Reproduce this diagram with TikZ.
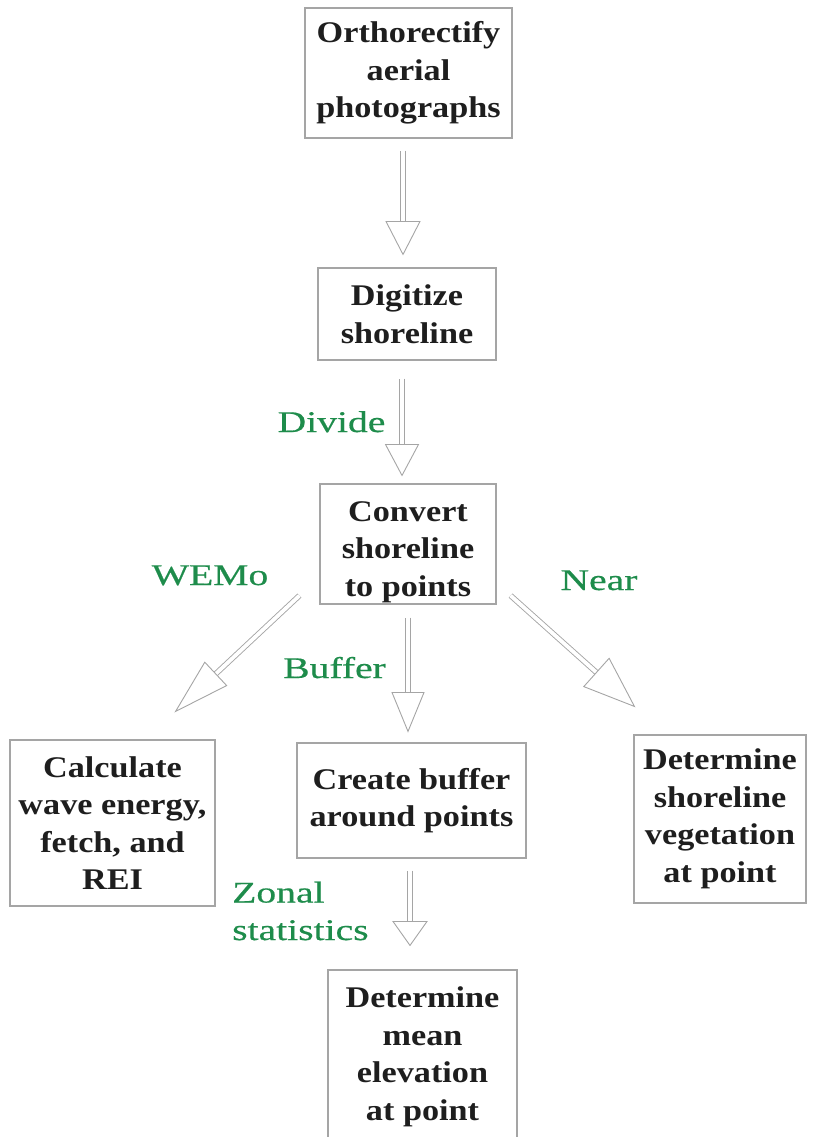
\documentclass[tikz,border=0pt]{standalone}
\usepackage{fontspec}
\setmainfont{Liberation Serif}[FakeStretch=1.14]
\newfontfamily\greenfont{Liberation Serif}[FakeStretch=1.32, FakeBold=0.5]
\usetikzlibrary{calc}

\definecolor{labelgreen}{RGB}{30,140,75}
\definecolor{edgegray}{RGB}{165,165,165}
\definecolor{inkgray}{RGB}{30,30,30}

\tikzset{
  stepbox/.style={draw=edgegray, line width=1.1pt, align=center, inner sep=0pt,
    text=inkgray, font=\bfseries\fontsize{30}{37.5}\selectfont},
  steptext/.style={align=center, inner sep=0pt,
    text=inkgray, font=\bfseries\fontsize{30}{37.5}\selectfont},
  steplabel/.style={text=labelgreen, inner sep=0pt, font=\greenfont\fontsize{30}{37.5}\selectfont},
  shaft/.style={draw=edgegray, line width=0.9pt, double=white, double distance=3.8pt},
  arrowhead/.style={draw=edgegray, line width=0.9pt, fill=white, line join=miter},
}

% hollow flow arrow: #1 start, #2 tip, #3 head length, #4 head half-width
\newcommand\flowarrow[4]{%
  \coordinate (hb) at ($(#2)!#3!(#1)$);
  \draw[shaft] (#1) -- (hb);
  \draw[arrowhead] ($(hb)!#4!90:(#2)$) -- (#2) -- ($(hb)!#4!-90:(#2)$) -- cycle;
}

\begin{document}
\begin{tikzpicture}[x=1pt, y=-1pt]
\useasboundingbox (0,0) rectangle (817,1137);

% process steps
\node[stepbox, minimum width=207pt, minimum height=130pt] (ortho) at (408.5,73)
  {Orthorectify\\aerial\\photographs};
\node[stepbox, minimum width=178pt, minimum height=92pt] (digit) at (407,314)
  {Digitize\\shoreline};
\node[stepbox, minimum width=176pt, minimum height=120pt] (conv) at (408,544) {};
\node[steptext] (convtext) at ($(conv.center)+(0,8)$)
  {Convert\\shoreline\\to points};
\node[stepbox, minimum width=205pt, minimum height=166pt] (wave) at (112.5,823)
  {Calculate\\wave energy,\\fetch, and\\REI};
\node[stepbox, minimum width=229pt, minimum height=115pt] (buff) at (411.5,800.5)
  {Create buffer\\around points};
\node[stepbox, minimum width=172pt, minimum height=168pt] (veg) at (720,819)
  {Determine\\shoreline\\vegetation\\at point};
\node[stepbox, minimum width=189pt, minimum height=174pt] (elev) at (422.5,1057)
  {Determine\\mean\\elevation\\at point};

% arrow end points
\coordinate (a1s) at ($(ortho.south)+(-5.5,12)$);
\coordinate (a1t) at ($(digit.north)+(-4,-13)$);
\coordinate (a2s) at ($(digit.south)+(-5,18)$);
\coordinate (a2t) at ($(conv.north)+(-6,-8)$);
\coordinate (a3s) at ($(conv.south west)+(-20,-9)$);
\coordinate (a3t) at ($(wave.north east)+(-40,-28)$);
\coordinate (a4s) at ($(conv.south)+(0,13)$);
\coordinate (a4t) at ($(buff.north)+(-3.5,-11)$);
\coordinate (a5s) at ($(conv.south east)+(14,-9)$);
\coordinate (a5t) at ($(veg.north west)+(1,-28)$);
\coordinate (a6s) at ($(buff.south)+(-1.5,12)$);
\coordinate (a6t) at ($(elev.north)+(-12.5,-24)$);

% connectors
\flowarrow{a1s}{a1t}{33pt}{17pt}
\flowarrow{a2s}{a2t}{31pt}{16.5pt}
\flowarrow{a3s}{a3t}{55pt}{16pt}
\flowarrow{a4s}{a4t}{39pt}{16pt}
\flowarrow{a5s}{a5t}{51pt}{19pt}
\flowarrow{a6s}{a6t}{24pt}{17pt}

% operation labels
\node[steplabel, anchor=base] (ldiv) at (331.5,432) {Divide};
\node[steplabel, anchor=base] (lwem) at (210,585) {WEMo};
\node[steplabel, anchor=base] (lnear) at (599,590) {Near};
\node[steplabel, anchor=base] (lbuf) at (334.5,678) {Buffer};
\node[steplabel, anchor=base west, align=left] (lzon) at (232,940) {Zonal\\statistics};
\end{tikzpicture}
\end{document}
